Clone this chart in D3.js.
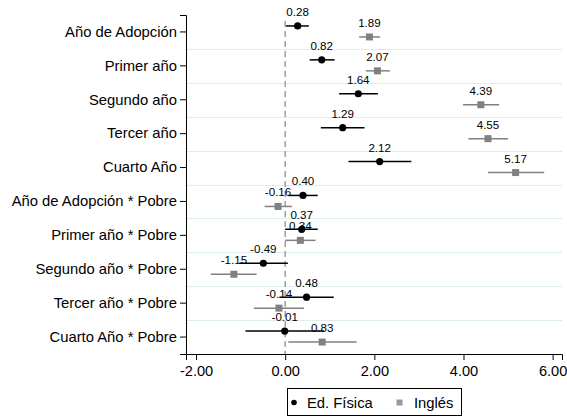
<!DOCTYPE html>
<html>
<head>
<meta charset="utf-8">
<script src="https://cdn.jsdelivr.net/npm/d3@7"></script>
<style>
  body { margin: 0; background: #fff; }
  svg { display: block; font-family: "Liberation Sans", Arial, sans-serif; }
</style>
</head>
<body>
<div id="chart"></div>
<script>
// categories, top to bottom
const categories = [
  'Año de Adopción', 'Primer año', 'Segundo año', 'Tercer año', 'Cuarto Año',
  'Año de Adopción * Pobre', 'Primer año * Pobre', 'Segundo año * Pobre',
  'Tercer año * Pobre', 'Cuarto Año * Pobre'
];
const seriesNames = ['Ed. Física', 'Inglés'];

// point estimates
const fisica = [0.28, 0.82, 1.64, 1.29, 2.12, 0.40, 0.37, -0.49, 0.48, -0.01];
const ingles = [1.89, 2.07, 4.39, 4.55, 5.17, -0.16, 0.34, -1.15, -0.14, 0.83];

// confidence intervals
const fisicaLo = [0.02, 0.55, 1.21, 0.80, 1.42, 0.07, 0.00, -1.03, -0.13, -0.89];
const fisicaHi = [0.53, 1.11, 2.08, 1.78, 2.83, 0.73, 0.73, 0.06, 1.09, 0.87];
const inglesLo = [1.66, 1.81, 3.99, 4.11, 4.55, -0.46, 0.00, -1.67, -0.70, 0.07];
const inglesHi = [2.13, 2.35, 4.80, 5.00, 5.81, 0.15, 0.68, -0.64, 0.42, 1.60];

const xTicks = [-2, 0, 2, 4, 6];

const width = 567, height = 417;
const margin = { top: 15, right: 5, bottom: 63, left: 186 };

// plain hyphen for negatives, like the original
const fmt = v => d3.format('.2f')(v).replace('\u2212', '-');

const svg = d3.select('#chart').append('svg')
  .attr('width', width).attr('height', height);

const x = d3.scaleLinear()
  .domain([-2.225, 6.21])
  .range([margin.left, width - margin.right]);

const y = d3.scaleBand()
  .domain(categories)
  .range([margin.top, height - margin.bottom]);

const bw = y.bandwidth();
const center = c => y(c) + bw / 2;

// light grid lines between categories
svg.append('g')
  .selectAll('line')
  .data(categories.slice(1))
  .join('line')
  .attr('x1', margin.left).attr('x2', width - margin.right)
  .attr('y1', d => Math.round(y(d)) + 0.5).attr('y2', d => Math.round(y(d)) + 0.5)
  .attr('stroke', '#dcecef').attr('stroke-width', 1.2);

// zero reference line
svg.append('line')
  .attr('x1', x(0)).attr('x2', x(0))
  .attr('y1', margin.top + 6).attr('y2', height - margin.bottom)
  .attr('stroke', '#888').attr('stroke-width', 1.2)
  .attr('stroke-dasharray', '6,4');

// axes
const xAxis = svg.append('g')
  .attr('transform', `translate(0,${height - margin.bottom})`)
  .call(d3.axisBottom(x).tickValues(xTicks).tickFormat(fmt).tickSizeOuter(0).tickSize(6));
xAxis.select('.domain').attr('stroke', '#000');
xAxis.selectAll('text').attr('font-size', 14.6).attr('fill', '#000').attr('dy', '0.9em');

const yAxis = svg.append('g')
  .attr('transform', `translate(${margin.left},0)`)
  .call(d3.axisLeft(y).tickSizeOuter(0).tickSize(6));
yAxis.selectAll('text').attr('font-size', 14.8).attr('fill', '#000');

const series = [
  { name: seriesNames[0], est: fisica, lo: fisicaLo, hi: fisicaHi, dy: -6, color: '#000', shape: 'circle' },
  { name: seriesNames[1], est: ingles, lo: inglesLo, hi: inglesHi, dy: 5, color: '#808080', shape: 'square' }
];

series.forEach(s => {
  const rows = categories.map((c, i) => ({ c, v: s.est[i], lo: s.lo[i], hi: s.hi[i] }));
  const g = svg.append('g');

  g.selectAll('line.ci')
    .data(rows).join('line')
    .attr('class', 'ci')
    .attr('x1', d => x(d.lo)).attr('x2', d => x(d.hi))
    .attr('y1', d => center(d.c) + s.dy).attr('y2', d => center(d.c) + s.dy)
    .attr('stroke', s.color).attr('stroke-width', 1.5);

  if (s.shape === 'circle') {
    g.selectAll('circle')
      .data(rows).join('circle')
      .attr('cx', d => x(d.v)).attr('cy', d => center(d.c) + s.dy)
      .attr('r', 3.6).attr('fill', s.color);
  } else {
    g.selectAll('rect')
      .data(rows).join('rect')
      .attr('x', d => x(d.v) - 3.5).attr('y', d => center(d.c) + s.dy - 3.5)
      .attr('width', 7).attr('height', 7).attr('fill', s.color);
  }

  g.selectAll('text')
    .data(rows).join('text')
    .attr('x', d => x(d.v)).attr('y', d => center(d.c) + s.dy - 10)
    .attr('text-anchor', 'middle')
    .attr('font-size', 11.6).attr('fill', '#000')
    .text(d => fmt(d.v));
});

// legend
const legend = svg.append('g').attr('transform', 'translate(287.5,388.5)');
legend.append('rect')
  .attr('width', 174).attr('height', 27)
  .attr('fill', '#fff').attr('stroke', '#000').attr('stroke-width', 1);
legend.append('circle').attr('cx', 6.5).attr('cy', 14).attr('r', 2.8).attr('fill', '#000');
legend.append('text').attr('x', 19.5).attr('y', 14).attr('dy', '0.35em')
  .attr('font-size', 14.8).text(seriesNames[0]);
legend.append('rect').attr('x', 109).attr('y', 11).attr('width', 6).attr('height', 6).attr('fill', '#999');
legend.append('text').attr('x', 126.5).attr('y', 14).attr('dy', '0.35em')
  .attr('font-size', 14.8).text(seriesNames[1]);
</script>
</body>
</html>
